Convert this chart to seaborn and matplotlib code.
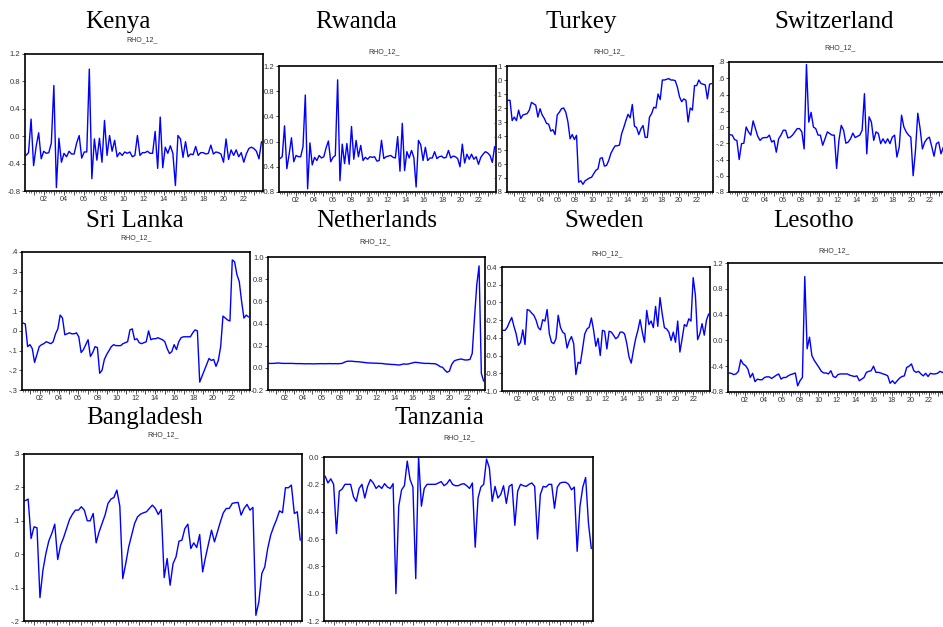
import numpy as np
import pandas as pd
import matplotlib
matplotlib.use("Agg")
import matplotlib.pyplot as plt
import seaborn as sns
from matplotlib.ticker import MultipleLocator, FuncFormatter, FixedLocator

sns.set_style("white")
plt.rcParams["font.family"] = ["Liberation Sans", "DejaVu Sans"]

# Rolling 12-quarter correlation (RHO_12_) by country, 2000Q2-2023Q4
kenya = [-0.28, -0.24, 0.25, -0.43, -0.15, 0.05, -0.33, -0.22, -0.25, -0.24,
         -0.10, 0.74, -0.75, -0.03, -0.38, -0.25, -0.30, -0.22, -0.26, -0.26,
         -0.10, 0.01, -0.32, -0.23, -0.23, 0.98, -0.62, -0.04, -0.35, -0.03,
         -0.38, 0.23, -0.28, 0.01, -0.22, -0.06, -0.30, -0.24, -0.28, -0.23,
         -0.25, -0.23, -0.30, -0.28, 0.01, -0.28, -0.24, -0.24, -0.22, -0.25,
         -0.25, 0.07, -0.47, 0.28, -0.46, -0.16, -0.25, -0.14, -0.25, -0.72,
         0.01, -0.04, -0.31, -0.08, -0.30, -0.26, -0.27, -0.15, -0.28, -0.24,
         -0.24, -0.26, -0.25, -0.13, -0.26, -0.23, -0.24, -0.26, -0.38, -0.04,
         -0.34, -0.20, -0.28, -0.20, -0.30, -0.24, -0.38, -0.26, -0.18, -0.16,
         -0.18, -0.22, -0.33, -0.08]

rwanda = [-0.27, -0.24, 0.25, -0.43, -0.20, 0.06, -0.32, -0.22, -0.24, -0.24,
          -0.08, 0.74, -0.75, -0.02, -0.37, -0.25, -0.30, -0.22, -0.26, -0.24,
          -0.10, 0.01, -0.32, -0.25, -0.22, 0.98, -0.62, -0.04, -0.35, -0.03,
          -0.36, 0.24, -0.28, 0.02, -0.24, -0.06, -0.30, -0.25, -0.28, -0.24,
          -0.25, -0.24, -0.31, -0.30, 0.02, -0.27, -0.24, -0.23, -0.22, -0.25,
          -0.26, 0.08, -0.47, 0.29, -0.46, -0.16, -0.26, -0.14, -0.25, -0.72,
          0.02, -0.05, -0.30, -0.09, -0.30, -0.26, -0.26, -0.16, -0.27, -0.24,
          -0.23, -0.26, -0.25, -0.14, -0.26, -0.23, -0.24, -0.27, -0.40, -0.04,
          -0.34, -0.20, -0.28, -0.20, -0.28, -0.24, -0.36, -0.25, -0.20, -0.16,
          -0.18, -0.22, -0.33, -0.08]

turkey = [-0.145, -0.145, -0.29, -0.265, -0.29, -0.215, -0.275, -0.25, -0.245, -0.24,
          -0.215, -0.16, -0.17, -0.18, -0.265, -0.205, -0.25, -0.275, -0.31, -0.315,
          -0.365, -0.355, -0.39, -0.25, -0.23, -0.205, -0.20, -0.23, -0.30, -0.42,
          -0.39, -0.425, -0.395, -0.73, -0.72, -0.745, -0.72, -0.71, -0.70, -0.695,
          -0.67, -0.645, -0.635, -0.56, -0.555, -0.615, -0.61, -0.575, -0.525, -0.495,
          -0.47, -0.47, -0.465, -0.385, -0.34, -0.29, -0.245, -0.27, -0.175, -0.33,
          -0.34, -0.39, -0.35, -0.325, -0.41, -0.41, -0.265, -0.24, -0.195, -0.20,
          -0.10, -0.14, 0.0, 0.0, 0.005, 0.01, 0.0, 0.0, -0.005, -0.05,
          -0.12, -0.155, -0.135, -0.145, -0.30, -0.20, -0.215, -0.04, -0.04, 0.0,
          -0.025, -0.03, -0.035, -0.135, -0.03, -0.025]

switzerland = [-0.095, -0.10, -0.155, -0.165, -0.40, -0.205, -0.20, 0.0, -0.06, -0.10,
               0.075, -0.02, -0.115, -0.165, -0.135, -0.13, -0.13, -0.10, -0.185, -0.165,
               -0.31, -0.145, -0.10, -0.04, -0.04, -0.135, -0.125, -0.10, -0.06, -0.02,
               -0.02, -0.06, -0.27, 0.77, 0.06, 0.18, 0.0, -0.02, -0.10, -0.10,
               -0.225, -0.145, -0.06, -0.08, -0.10, -0.10, -0.51, -0.165, 0.02, -0.04,
               -0.20, -0.185, -0.145, -0.075, -0.13, -0.115, -0.10, -0.04, 0.41, -0.33,
               0.125, 0.06, -0.165, -0.06, -0.08, -0.205, -0.145, -0.20, -0.145, -0.205,
               -0.125, -0.10, -0.37, -0.245, 0.145, 0.0, -0.06, -0.10, -0.125, -0.60,
               -0.29, 0.17, -0.02, -0.27, -0.185, -0.145, -0.125, -0.24, -0.36, -0.205,
               -0.185, -0.33, -0.25, -0.30]

sri_lanka = [0.04, 0.035, -0.08, -0.07, -0.09, -0.16, -0.12, -0.08, -0.07, -0.065,
             -0.055, -0.06, -0.065, -0.055, -0.015, 0.01, 0.08, 0.065, -0.02, -0.015,
             -0.01, -0.015, -0.015, -0.01, -0.03, -0.11, -0.095, -0.07, -0.045, -0.13,
             -0.11, -0.08, -0.085, -0.215, -0.20, -0.145, -0.12, -0.10, -0.08, -0.07,
             -0.075, -0.075, -0.075, -0.065, -0.06, -0.055, 0.005, 0.01, -0.045, -0.04,
             -0.06, -0.065, -0.06, -0.055, 0.0, -0.045, -0.04, -0.04, -0.035, -0.04,
             -0.045, -0.055, -0.09, -0.115, -0.105, -0.07, -0.095, -0.055, -0.035, -0.03,
             -0.03, -0.03, -0.03, -0.01, 0.005, 0.0, -0.26, -0.23, -0.20, -0.17,
             -0.14, -0.15, -0.145, -0.18, -0.15, -0.08, 0.075, 0.065, 0.055, 0.05,
             0.36, 0.35, 0.285, 0.25, 0.15, 0.065, 0.08, 0.07]

netherlands = [0.040, 0.040, 0.040, 0.042, 0.044, 0.042, 0.040, 0.040, 0.040, 0.040,
               0.040, 0.039, 0.038, 0.038, 0.038, 0.037, 0.036, 0.037, 0.037, 0.036,
               0.036, 0.037, 0.037, 0.038, 0.037, 0.037, 0.038, 0.038, 0.037, 0.038,
               0.037, 0.038, 0.040, 0.050, 0.058, 0.060, 0.060, 0.058, 0.056, 0.055,
               0.053, 0.050, 0.048, 0.045, 0.044, 0.043, 0.042, 0.042, 0.040, 0.040,
               0.038, 0.035, 0.033, 0.032, 0.030, 0.030, 0.027, 0.025, 0.030, 0.035,
               0.033, 0.035, 0.040, 0.045, 0.050, 0.048, 0.045, 0.043, 0.040, 0.040,
               0.040, 0.038, 0.038, 0.035, 0.025, 0.010, 0.005, -0.020, -0.040, -0.030,
               0.030, 0.060, 0.070, 0.075, 0.080, 0.075, 0.070, 0.072, 0.075, 0.130,
               0.450, 0.750, 0.920, -0.050, -0.120]

sweden = [-0.315, -0.315, -0.28, -0.22, -0.17, -0.27, -0.355, -0.485, -0.45, -0.31,
          -0.475, -0.08, -0.09, -0.12, -0.145, -0.20, -0.285, -0.31, -0.195, -0.21,
          -0.08, -0.355, -0.45, -0.465, -0.41, -0.145, -0.28, -0.335, -0.355, -0.515,
          -0.435, -0.385, -0.465, -0.815, -0.675, -0.69, -0.525, -0.355, -0.30, -0.28,
          -0.175, -0.315, -0.495, -0.405, -0.60, -0.315, -0.325, -0.525, -0.325, -0.335,
          -0.37, -0.41, -0.39, -0.335, -0.335, -0.355, -0.465, -0.615, -0.685, -0.54,
          -0.41, -0.315, -0.195, -0.335, -0.45, -0.09, -0.25, -0.21, -0.285, -0.045,
          -0.27, 0.055, -0.13, -0.285, -0.30, -0.335, -0.43, -0.335, -0.45, -0.21,
          -0.56, -0.41, -0.25, -0.27, -0.185, -0.21, 0.28, 0.08, -0.42, -0.355,
          -0.24, -0.37, -0.20, -0.13]

lesotho = [-0.505, -0.51, -0.53, -0.52, -0.48, -0.30, -0.365, -0.39, -0.445, -0.575,
           -0.51, -0.64, -0.60, -0.61, -0.61, -0.575, -0.565, -0.565, -0.59, -0.565,
           -0.54, -0.52, -0.60, -0.575, -0.575, -0.55, -0.53, -0.52, -0.505, -0.705,
           -0.625, -0.575, 0.99, -0.13, 0.05, -0.235, -0.31, -0.365, -0.42, -0.48,
           -0.505, -0.505, -0.52, -0.47, -0.56, -0.575, -0.53, -0.52, -0.52, -0.52,
           -0.52, -0.54, -0.55, -0.56, -0.55, -0.625, -0.60, -0.575, -0.495, -0.48,
           -0.47, -0.40, -0.495, -0.495, -0.505, -0.52, -0.53, -0.55, -0.665, -0.625,
           -0.67, -0.625, -0.585, -0.56, -0.55, -0.42, -0.40, -0.365, -0.47, -0.495,
           -0.48, -0.52, -0.55, -0.51, -0.56, -0.51, -0.52, -0.52, -0.51, -0.48,
           -0.495, -0.51]

bangladesh = [0.16, 0.165, 0.047, 0.082, 0.079, -0.13, -0.048, 0.002, 0.04, 0.062,
              0.09, -0.016, 0.027, 0.05, 0.077, 0.104, 0.12, 0.132, 0.132, 0.142,
              0.132, 0.10, 0.10, 0.122, 0.034, 0.067, 0.092, 0.117, 0.152, 0.165,
              0.17, 0.192, 0.144, -0.073, -0.028, 0.022, 0.057, 0.092, 0.112, 0.12,
              0.124, 0.127, 0.137, 0.147, 0.137, 0.119, 0.134, -0.07, -0.013, -0.093,
              -0.028, -0.008, 0.039, 0.042, 0.077, 0.09, 0.017, 0.034, 0.02, 0.059,
              -0.053, -0.008, 0.032, 0.072, 0.037, 0.067, 0.097, 0.124, 0.137, 0.137,
              0.152, 0.154, 0.155, 0.117, 0.137, 0.149, 0.132, 0.14, -0.183, -0.143,
              -0.058, -0.038, 0.017, 0.057, 0.082, 0.104, 0.13, 0.124, 0.199, 0.199,
              0.207, 0.122, 0.127, 0.042]

tanzania = [-0.14, -0.19, -0.16, -0.20, -0.56, -0.25, -0.235, -0.20, -0.20, -0.20,
            -0.29, -0.325, -0.23, -0.20, -0.30, -0.215, -0.165, -0.19, -0.23, -0.21,
            -0.23, -0.195, -0.22, -0.23, -0.195, -1.0, -0.36, -0.24, -0.21, -0.03,
            -0.165, -0.22, -0.89, 0.0, -0.36, -0.23, -0.20, -0.20, -0.20, -0.20,
            -0.19, -0.18, -0.21, -0.195, -0.165, -0.20, -0.21, -0.21, -0.20, -0.195,
            -0.21, -0.23, -0.19, -0.66, -0.30, -0.22, -0.20, -0.015, -0.08, -0.325,
            -0.215, -0.30, -0.275, -0.21, -0.34, -0.215, -0.20, -0.50, -0.25, -0.20,
            -0.21, -0.215, -0.20, -0.19, -0.215, -0.60, -0.275, -0.215, -0.22, -0.20,
            -0.20, -0.375, -0.22, -0.19, -0.185, -0.185, -0.20, -0.24, -0.22, -0.69,
            -0.36, -0.22, -0.15, -0.485, -0.67]

countries = ["Kenya", "Rwanda", "Turkey", "Switzerland", "Sri Lanka",
             "Netherlands", "Sweden", "Lesotho", "Bangladesh", "Tanzania"]
series = [kenya, rwanda, turkey, switzerland, sri_lanka,
          netherlands, sweden, lesotho, bangladesh, tanzania]
series_label = "RHO_12_"
sample_start, sample_end = 2000.25, 2023.75

# Panel layout in pixels: frame (left, top, right, bottom), y-range, tick step,
# tick style, title/label anchor points, and whether date labels are shown
W, H = 943, 627
layout = {
    "Kenya":       dict(box=(25, 54, 263, 191),  yl=(-0.8, 1.2), step=0.4, short=False, title=(118, 28),  sub=(142, 40),  xl=True),
    "Rwanda":      dict(box=(279, 66, 496, 192), yl=(-0.8, 1.2), step=0.4, short=False, title=(356, 28),  sub=(384, 52),  xl=True),
    "Turkey":      dict(box=(507, 66, 713, 192), yl=(-0.8, 0.1), step=0.1, short=True,  title=(581, 28),  sub=(609, 52),  xl=True),
    "Switzerland": dict(box=(729, 62, 947, 192), yl=(-0.8, 0.8), step=0.2, short=True,  title=(834, 28),  sub=(840, 48),  xl=True),
    "Sri Lanka":   dict(box=(22, 252, 250, 390), yl=(-0.3, 0.4), step=0.1, short=True,  title=(135, 227), sub=(136, 238), xl=True),
    "Netherlands": dict(box=(268, 257, 485, 390), yl=(-0.2, 1.0), step=0.2, short=False, title=(377, 227), sub=(375, 242), xl=True),
    "Sweden":      dict(box=(502, 267, 710, 391), yl=(-1.0, 0.4), step=0.2, short=False, title=(604, 227), sub=(607, 254), xl=True),
    "Lesotho":     dict(box=(728, 263, 946, 392), yl=(-0.8, 1.2), step=0.4, short=False, title=(814, 227), sub=(834, 251), xl=True),
    "Bangladesh":  dict(box=(24, 454, 302, 621), yl=(-0.2, 0.3), step=0.1, short=True,  title=(145, 424), sub=(163, 435), xl=False),
    "Tanzania":    dict(box=(324, 457, 593, 621), yl=(-1.2, 0.0), step=0.2, short=False, title=(439, 424), sub=(459, 438), xl=False),
}

fig = plt.figure(figsize=(W / 100, H / 100), dpi=100)
fig.patch.set_facecolor("white")


def rect(l, t, r, b):
    return [l / W, 1 - b / H, (r - l) / W, (b - t) / H]


def short_fmt(v, _pos):
    s = f"{v:.1f}"
    if s == "-0.0":
        return ".0"
    return s.replace("-0.", "-.").replace("0.", ".")


def long_fmt(v, _pos):
    s = f"{v:.1f}"
    return "0.0" if s == "-0.0" else s


def year_fmt(v, _pos):
    y = int(round(v))
    return f"{y % 100:02d}" if y % 2 == 0 else ""


for name, vals in zip(countries, series):
    spec = layout[name]
    df = pd.DataFrame({
        "date": np.linspace(sample_start, sample_end, len(vals)),
        "rho": vals,
    })
    ax = fig.add_axes(rect(*spec["box"]))
    ax.set_facecolor("white")
    sns.lineplot(data=df, x="date", y="rho", ax=ax, color="#0000ff",
                 linewidth=1.0, estimator=None, sort=False)
    lo, hi = spec["yl"]
    ax.set_ylim(lo, hi)
    ax.set_xlim(2000.15, 2023.9)
    ticks = np.round(np.arange(lo, hi + spec["step"] / 2, spec["step"]), 2)
    ax.yaxis.set_major_locator(FixedLocator(ticks))
    ax.yaxis.set_major_formatter(FuncFormatter(short_fmt if spec["short"] else long_fmt))
    ax.xaxis.set_major_locator(MultipleLocator(1))
    ax.xaxis.set_minor_locator(MultipleLocator(0.25))
    ax.xaxis.set_major_formatter(FuncFormatter(year_fmt))
    ax.set_xlabel("")
    ax.set_ylabel("")
    ax.tick_params(axis="y", direction="out", length=2, width=0.6, pad=1.2,
                   labelsize=5.5, colors="#333333", left=True)
    ax.tick_params(axis="x", which="major", direction="out", length=2.6, width=0.6,
                   pad=1.2, labelsize=5.2, colors="#333333", bottom=True,
                   labelbottom=spec["xl"])
    ax.tick_params(axis="x", which="minor", direction="out", length=1.4,
                   width=0.5, colors="#333333", bottom=True)
    for s in ax.spines.values():
        s.set_visible(True)
        s.set_linewidth(1.2)
        s.set_color("black")

    tx, ty = spec["title"]
    fig.text(tx / W, 1 - ty / H, name, ha="center", va="baseline",
             fontsize=18, family=["Liberation Serif", "DejaVu Serif"], color="black")
    sx, sy = spec["sub"]
    fig.text(sx / W, 1 - sy / H, series_label, ha="center", va="center",
             fontsize=5, color="#333333")

fig.savefig("out.png", dpi=100, facecolor="white")
